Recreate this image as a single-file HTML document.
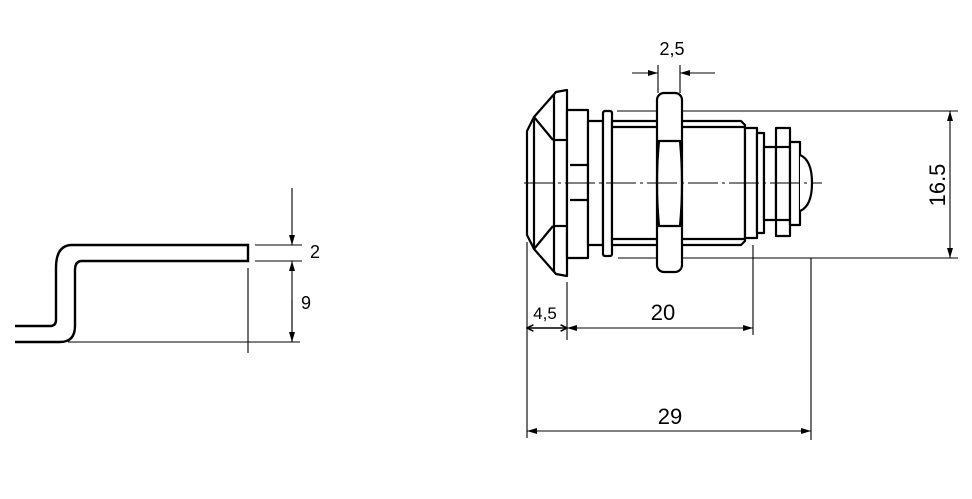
<!DOCTYPE html>
<html><head><meta charset="utf-8"><style>
html,body{margin:0;padding:0;background:#fff;}
svg{display:block;}
text{font-family:"Liberation Sans","DejaVu Sans",sans-serif;fill:#000;}
</style></head><body>
<svg width="972" height="499" viewBox="0 0 972 499" xmlns="http://www.w3.org/2000/svg">
<defs>
<marker id="a" viewBox="0 0 10 6" refX="10" refY="3" markerWidth="10" markerHeight="6" orient="auto-start-reverse" markerUnits="userSpaceOnUse"><path d="M0,0 L10,3 L0,6 z" fill="#000"/></marker>
<marker id="b" viewBox="0 0 10 10" refX="9" refY="5" markerWidth="8" markerHeight="8" orient="auto-start-reverse" markerUnits="userSpaceOnUse"><path d="M1,1 L9,5 L1,9" fill="none" stroke="#000" stroke-width="2"/></marker>
</defs>
<rect width="972" height="499" fill="#fff"/>

<!-- LEFT: sheet profile -->
<g fill="none" stroke="#000" stroke-width="2.4">
<path d="M15,326 H50 Q56,326 56,320 V268 Q56,245 72,245 H248 V261 H82 Q75,261 75,270 V326 Q75,342 60,342 H15"/>
</g>
<g fill="none" stroke="#000" stroke-width="1.1">
<line x1="68" y1="342" x2="300" y2="342"/>
<line x1="255" y1="245" x2="302" y2="245"/>
<line x1="255" y1="261" x2="302" y2="261"/>
<line x1="248" y1="268" x2="248" y2="353"/>
<line x1="292" y1="188" x2="292" y2="245" marker-end="url(#a)"/>
<line x1="292" y1="342" x2="292" y2="261" marker-end="url(#a)"/>
<line x1="292" y1="300" x2="292" y2="342" marker-end="url(#a)"/>
</g>
<text x="310" y="258" font-size="18">2</text>
<text x="301" y="309" font-size="18">9</text>

<!-- RIGHT: dimension/extension lines (behind) -->
<g fill="none" stroke="#000" stroke-width="1.1">
<line x1="524" y1="183" x2="822" y2="183"/>
<line x1="617" y1="111" x2="958" y2="111"/>
<line x1="618" y1="258" x2="958" y2="258"/>
<line x1="950" y1="140" x2="950" y2="111" marker-end="url(#a)"/>
<line x1="950" y1="230" x2="950" y2="258" marker-end="url(#a)"/>
<line x1="950" y1="140" x2="950" y2="230"/>
<line x1="658" y1="65" x2="658" y2="93"/>
<line x1="680" y1="65" x2="680" y2="93"/>
<line x1="632" y1="73" x2="658" y2="73" marker-end="url(#a)"/>
<line x1="715" y1="73" x2="680" y2="73" marker-end="url(#a)"/>
<line x1="527" y1="242" x2="527" y2="438"/>
<line x1="567" y1="282" x2="567" y2="340"/>
<line x1="753" y1="245" x2="753" y2="335"/>
<line x1="811" y1="258" x2="811" y2="440"/>
<line x1="567" y1="328" x2="753" y2="328" marker-start="url(#a)" marker-end="url(#a)"/>
<line x1="527" y1="431" x2="811" y2="431" marker-start="url(#a)" marker-end="url(#a)"/>
</g>

<!-- cam lock -->
<g fill="#fff" stroke="#000" stroke-width="2.2" stroke-linejoin="round">
<path d="M567,90 L556,92 L534,117 L527,131 V235 L534,249 L556,274 L567,276 Z"/>
<line x1="534" y1="117" x2="534" y2="249"/>
<line x1="554" y1="94" x2="554" y2="272"/>
<line x1="534" y1="117" x2="553" y2="140"/>
<line x1="534" y1="249" x2="553" y2="226"/>
<line x1="553" y1="140" x2="567" y2="140"/>
<line x1="553" y1="226" x2="567" y2="226"/>
<rect x="567" y="110" width="21" height="148"/>
<rect x="588" y="121" width="15" height="124"/>
<line x1="570" y1="165" x2="588" y2="165"/><line x1="570" y1="200" x2="588" y2="200"/>
<rect x="603" y="111" width="9" height="145" rx="2"/>
<path d="M612,121 H741 L745,125 V241 L741,245 H612 Z"/>
<line x1="612" y1="127" x2="745" y2="127"/>
<line x1="612" y1="239" x2="745" y2="239"/>
<rect x="657" y="93" width="25" height="179" rx="7"/>
<path fill="none" d="M659,141 Q655,183 659,226 M680,141 Q684,183 680,226"/>
<line x1="658" y1="141" x2="681" y2="141"/><line x1="658" y1="226" x2="681" y2="226"/>
<rect x="745" y="128" width="12" height="110"/>
<rect x="757" y="133" width="7" height="100"/>
<rect x="764" y="147" width="12" height="73"/>
<rect x="776" y="128" width="14" height="108"/>
<rect x="790" y="142" width="10" height="83"/>
<path d="M800,155 Q812,160 812,183 Q812,206 800,211"/>
<line x1="776" y1="147" x2="790" y2="147"/><line x1="776" y1="220" x2="790" y2="220"/>
</g>
<line x1="524" y1="183" x2="822" y2="183" stroke="#000" stroke-width="1" stroke-dasharray="30,4,3,4"/>
<line x1="527" y1="328" x2="567" y2="328" stroke="#000" stroke-width="1.6" marker-start="url(#b)" marker-end="url(#b)"/>
<text x="672" y="55" font-size="18" text-anchor="middle">2,5</text>
<text x="545" y="319" font-size="17" text-anchor="middle">4,5</text>
<text x="663" y="320" font-size="22" text-anchor="middle">20</text>
<text x="670" y="424" font-size="22" text-anchor="middle">29</text>
<text x="0" y="0" font-size="22" text-anchor="middle" transform="translate(945,185) rotate(-90)">16.5</text>
</svg>
</body></html>
